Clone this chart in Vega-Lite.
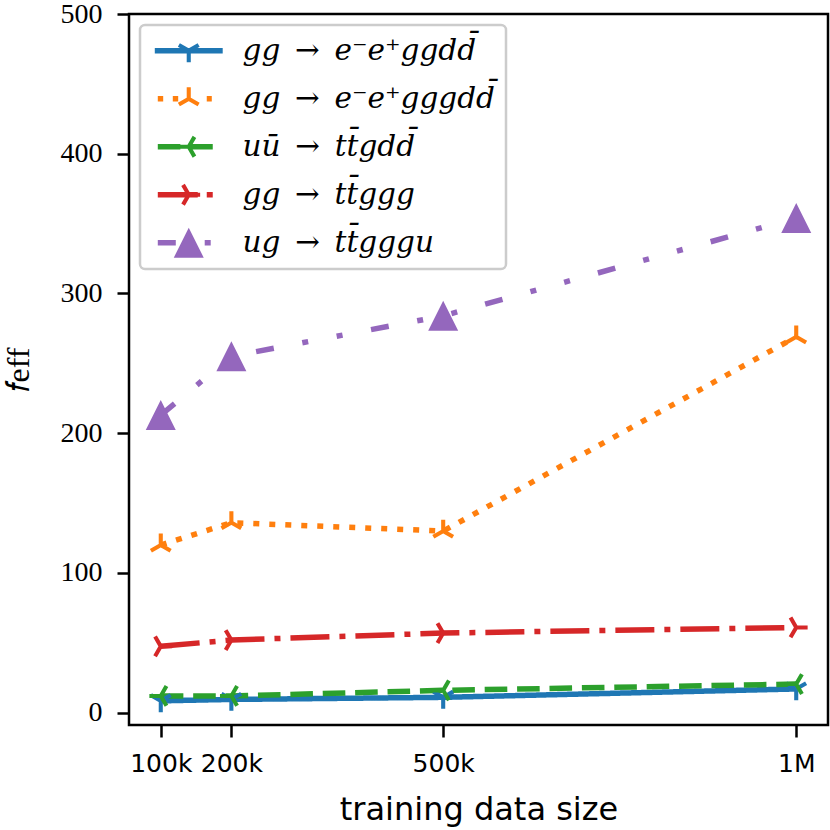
{
  "$schema": "https://vega.github.io/schema/vega-lite/v6.json",
  "width": 699,
  "height": 711,
  "autosize": {"type": "none"},
  "padding": {"left": 129, "top": 14, "right": 2, "bottom": 105},
  "background": "white",
  "data": {
    "values": [
      {"size": 100000, "feff": 8.5, "process": "gg\u2002→\u2002e⁻e⁺ggdd\u0304"},
      {"size": 200000, "feff": 9.5, "process": "gg\u2002→\u2002e⁻e⁺ggdd\u0304"},
      {"size": 500000, "feff": 11, "process": "gg\u2002→\u2002e⁻e⁺ggdd\u0304"},
      {"size": 1000000, "feff": 17, "process": "gg\u2002→\u2002e⁻e⁺ggdd\u0304"},
      {"size": 100000, "feff": 120, "process": "gg\u2002→\u2002e⁻e⁺gggdd\u0304"},
      {"size": 200000, "feff": 136, "process": "gg\u2002→\u2002e⁻e⁺gggdd\u0304"},
      {"size": 500000, "feff": 130, "process": "gg\u2002→\u2002e⁻e⁺gggdd\u0304"},
      {"size": 1000000, "feff": 269, "process": "gg\u2002→\u2002e⁻e⁺gggdd\u0304"},
      {"size": 100000, "feff": 12, "process": "uu\u0304\u2002→\u2002tt\u0304gdd\u0304"},
      {"size": 200000, "feff": 12, "process": "uu\u0304\u2002→\u2002tt\u0304gdd\u0304"},
      {"size": 500000, "feff": 16, "process": "uu\u0304\u2002→\u2002tt\u0304gdd\u0304"},
      {"size": 1000000, "feff": 20.5, "process": "uu\u0304\u2002→\u2002tt\u0304gdd\u0304"},
      {"size": 100000, "feff": 47.5, "process": "gg\u2002→\u2002tt\u0304ggg"},
      {"size": 200000, "feff": 52, "process": "gg\u2002→\u2002tt\u0304ggg"},
      {"size": 500000, "feff": 57, "process": "gg\u2002→\u2002tt\u0304ggg"},
      {"size": 1000000, "feff": 61, "process": "gg\u2002→\u2002tt\u0304ggg"},
      {"size": 100000, "feff": 213, "process": "ug\u2002→\u2002tt\u0304gggu"},
      {"size": 200000, "feff": 255, "process": "ug\u2002→\u2002tt\u0304gggu"},
      {"size": 500000, "feff": 284, "process": "ug\u2002→\u2002tt\u0304gggu"},
      {"size": 1000000, "feff": 354, "process": "ug\u2002→\u2002tt\u0304gggu"}
    ]
  },
  "encoding": {
    "x": {
      "field": "size",
      "type": "quantitative",
      "scale": {"domain": [55000, 1045000], "nice": false, "zero": false},
      "axis": {
        "values": [100000, 200000, 500000, 1000000],
        "labelExpr": "datum.value >= 1000000 ? '1M' : format(datum.value / 1000, 'd') + 'k'",
        "labelFont": "DejaVu Sans",
        "labelFontSize": 25,
        "labelPadding": 14,
        "labelOverlap": false,
        "labelFlush": false,
        "title": "training data size",
        "titleFont": "DejaVu Sans",
        "titleFontSize": 32,
        "titlePadding": 18
      }
    },
    "y": {
      "field": "feff",
      "type": "quantitative",
      "scale": {"domain": [-8.8, 500], "nice": false, "zero": false},
      "axis": {
        "values": [0, 100, 200, 300, 400, 500],
        "labelFont": "Liberation Serif",
        "labelFontSize": 28,
        "labelPadding": 15,
        "labelOverlap": false,
        "labelFlush": false,
        "title": "𝑓eff",
        "titleFont": "Liberation Serif",
        "titleFontSize": 32,
        "titlePadding": 25
      }
    }
  },
  "layer": [
    {
      "mark": {"type": "line", "strokeWidth": 5.5},
      "encoding": {
        "color": {
          "field": "process",
          "type": "nominal",
          "legend": null,
          "scale": {
            "domain": ["gg\u2002→\u2002e⁻e⁺ggdd\u0304", "gg\u2002→\u2002e⁻e⁺gggdd\u0304", "uu\u0304\u2002→\u2002tt\u0304gdd\u0304", "gg\u2002→\u2002tt\u0304ggg", "ug\u2002→\u2002tt\u0304gggu"],
            "range": ["#1f77b4", "#ff7f0e", "#2ca02c", "#d62728", "#9467bd"]
          }
        },
        "strokeDash": {
          "field": "process",
          "type": "nominal",
          "legend": null,
          "scale": {
            "domain": ["gg\u2002→\u2002e⁻e⁺ggdd\u0304", "gg\u2002→\u2002e⁻e⁺gggdd\u0304", "uu\u0304\u2002→\u2002tt\u0304gdd\u0304", "gg\u2002→\u2002tt\u0304ggg", "ug\u2002→\u2002tt\u0304gggu"],
            "range": [[1, 0], [6, 10], [22.6, 9.8], [39, 10, 6, 10], [18, 29, 6, 29, 6, 29]]
          }
        }
      }
    },
    {
      "mark": {"type": "point", "filled": true, "opacity": 1, "size": 576, "strokeWidth": 0},
      "encoding": {
        "color": {
          "field": "process",
          "type": "nominal",
          "legend": null,
          "scale": {
            "domain": ["gg\u2002→\u2002e⁻e⁺ggdd\u0304", "gg\u2002→\u2002e⁻e⁺gggdd\u0304", "uu\u0304\u2002→\u2002tt\u0304gdd\u0304", "gg\u2002→\u2002tt\u0304ggg", "ug\u2002→\u2002tt\u0304gggu"],
            "range": ["#1f77b4", "#ff7f0e", "#2ca02c", "#d62728", "#9467bd"]
          }
        },
        "shape": {
          "field": "process",
          "type": "nominal",
          "legend": null,
          "scale": {
            "domain": ["gg\u2002→\u2002e⁻e⁺ggdd\u0304", "gg\u2002→\u2002e⁻e⁺gggdd\u0304", "uu\u0304\u2002→\u2002tt\u0304gdd\u0304", "gg\u2002→\u2002tt\u0304ggg", "ug\u2002→\u2002tt\u0304gggu"],
            "range": [
              "M-0.17,-0.1L-0.17,0.95L0.17,0.95L0.17,-0.1Z M0.172,-0.097L-0.738,-0.622L-0.908,-0.328L0.002,0.197Z M-0.002,0.197L0.908,-0.328L0.738,-0.622L-0.172,-0.097Z",
              "M0.17,0.1L0.17,-0.95L-0.17,-0.95L-0.17,0.1Z M0.002,-0.197L-0.908,0.328L-0.738,0.622L0.172,0.097Z M-0.172,0.097L0.738,0.622L0.908,0.328L-0.002,-0.197Z",
              "M0.1,-0.17L-0.95,-0.17L-0.95,0.17L0.1,0.17Z M0.097,0.172L0.622,-0.738L0.328,-0.908L-0.197,0.002Z M-0.197,-0.002L0.328,0.908L0.622,0.738L0.097,-0.172Z",
              "M-0.1,0.17L0.95,0.17L0.95,-0.17L-0.1,-0.17Z M0.197,0.002L-0.328,-0.908L-0.622,-0.738L-0.097,0.172Z M-0.097,-0.172L-0.622,0.738L-0.328,0.908L0.197,-0.002Z",
              "M0,-1.25L-1.25,1.25L1.25,1.25Z"
            ]
          }
        }
      }
    },
    {
      "transform": [{"filter": "datum.feff < -1000"}],
      "mark": {"type": "point", "filled": true, "opacity": 1, "size": 576, "strokeWidth": 0},
      "encoding": {
        "color": {
          "field": "process",
          "type": "nominal",
          "legend": {"title": null},
          "scale": {
            "domain": ["gg\u2002→\u2002e⁻e⁺ggdd\u0304", "gg\u2002→\u2002e⁻e⁺gggdd\u0304", "uu\u0304\u2002→\u2002tt\u0304gdd\u0304", "gg\u2002→\u2002tt\u0304ggg", "ug\u2002→\u2002tt\u0304gggu"],
            "range": ["#1f77b4", "#ff7f0e", "#2ca02c", "#d62728", "#9467bd"]
          }
        },
        "shape": {
          "field": "process",
          "type": "nominal",
          "legend": {"title": null},
          "scale": {
            "domain": ["gg\u2002→\u2002e⁻e⁺ggdd\u0304", "gg\u2002→\u2002e⁻e⁺gggdd\u0304", "uu\u0304\u2002→\u2002tt\u0304gdd\u0304", "gg\u2002→\u2002tt\u0304ggg", "ug\u2002→\u2002tt\u0304gggu"],
            "range": [
              "M-2.83,0.23H2.83V-0.23H-2.83Z M-0.17,-0.1L-0.17,0.95L0.17,0.95L0.17,-0.1Z M0.172,-0.097L-0.738,-0.622L-0.908,-0.328L0.002,0.197Z M-0.002,0.197L0.908,-0.328L0.738,-0.622L-0.172,-0.097Z",
              "M-2.58,0.23H-2.13V-0.23H-2.58Z M-1.33,0.23H-0.88V-0.23H-1.33Z M1.5,0.23H1.92V-0.23H1.5Z M0.17,0.1L0.17,-0.95L-0.17,-0.95L-0.17,0.1Z M0.002,-0.197L-0.908,0.328L-0.738,0.622L0.172,0.097Z M-0.172,0.097L0.738,0.622L0.908,0.328L-0.002,-0.197Z",
              "M-2.58,0.23H-0.7V-0.23H-2.58Z M0.12,0.23H2.0V-0.23H0.12Z M0.1,-0.17L-0.95,-0.17L-0.95,0.17L0.1,0.17Z M0.097,0.172L0.622,-0.738L0.328,-0.908L-0.197,0.002Z M-0.197,-0.002L0.328,0.908L0.622,0.738L0.097,-0.172Z",
              "M-2.58,0.23H0.75V-0.23H-2.58Z M1.5,0.23H2.0V-0.23H1.5Z M-0.1,0.17L0.95,0.17L0.95,-0.17L-0.1,-0.17Z M0.197,0.002L-0.328,-0.908L-0.622,-0.738L-0.097,0.172Z M-0.097,-0.172L-0.622,0.738L-0.328,0.908L0.197,-0.002Z",
              "M-2.58,0.23H-1.08V-0.23H-2.58Z M1.33,0.23H1.83V-0.23H1.33Z M0,-1.25L-1.25,1.25L1.25,1.25Z"
            ]
          }
        }
      }
    }
  ],
  "resolve": {"scale": {"color": "independent", "shape": "independent", "strokeDash": "independent"}},
  "config": {
    "view": {"stroke": "black", "strokeWidth": 2.5},
    "axis": {
      "domain": false,
      "grid": false,
      "ticks": true,
      "tickColor": "black",
      "tickWidth": 2.5,
      "tickSize": 12,
      "labelColor": "black",
      "titleColor": "black",
      "titleFontWeight": "normal"
    },
    "legend": {
      "orient": "top-left",
      "offset": 11,
      "padding": 11,
      "cornerRadius": 5,
      "strokeColor": "#cccccc",
      "strokeWidth": 2.5,
      "fillColor": "white",
      "symbolSize": 576,
      "symbolStrokeWidth": 0,
      "symbolOffset": 23,
      "labelOffset": 39,
      "rowPadding": 17,
      "labelFont": "DejaVu Serif",
      "labelFontSize": 29.5,
      "labelFontStyle": "italic",
      "labelColor": "black",
      "labelLimit": 500
    }
  }
}
